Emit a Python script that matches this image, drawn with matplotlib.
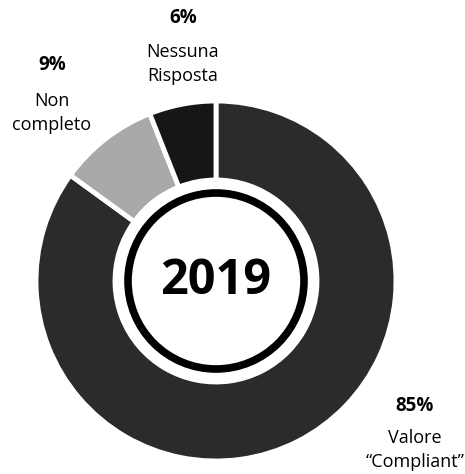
import matplotlib.pyplot as plt
from matplotlib.patches import Circle

# Data
labels = ["Valore\n\u201cCompliant\u201d", "Non\ncompleto", "Nessuna\nRisposta"]
shares = [85, 9, 6]
colors = ["#2b2b2b", "#a9a9a9", "#161616"]
year = "2019"

W, H = 465, 474
plt.rcParams['font.family'] = ['Open Sans', 'DejaVu Sans']

fig = plt.figure(figsize=(W / 100, H / 100), dpi=100)
ax = fig.add_axes([0, 0, 1, 1])

cx, cy = 216, H - 281   # donut centre in pixel units
ax.pie(shares, startangle=90, counterclock=False, colors=colors,
       radius=180, center=(cx, cy), explode=[0, 0.03, 0],
       wedgeprops=dict(width=79, edgecolor='white', linewidth=3.5))

# inner black ring
ax.add_patch(Circle((cx, cy), 88, facecolor='white', edgecolor='black', linewidth=5.5))
ax.text(cx, cy, year, ha='center', va='center', fontsize=35, fontweight='bold')

# labels: (x, y of pct, y of text)
label_pos = [(415, 406, 450), (52, 65, 113), (183, 18, 64)]
for lab, pct, (lx, py, ty) in zip(labels, shares, label_pos):
    ax.text(lx, H - py, f"{pct}%", ha='center', va='center', fontsize=13.5, fontweight='bold')
    ax.text(lx, H - ty, lab, ha='center', va='center', fontsize=13, linespacing=1.45)

ax.set_xlim(0, W)
ax.set_ylim(0, H)
ax.set_aspect('equal')
ax.axis('off')

fig.savefig("out.png", dpi=100)
